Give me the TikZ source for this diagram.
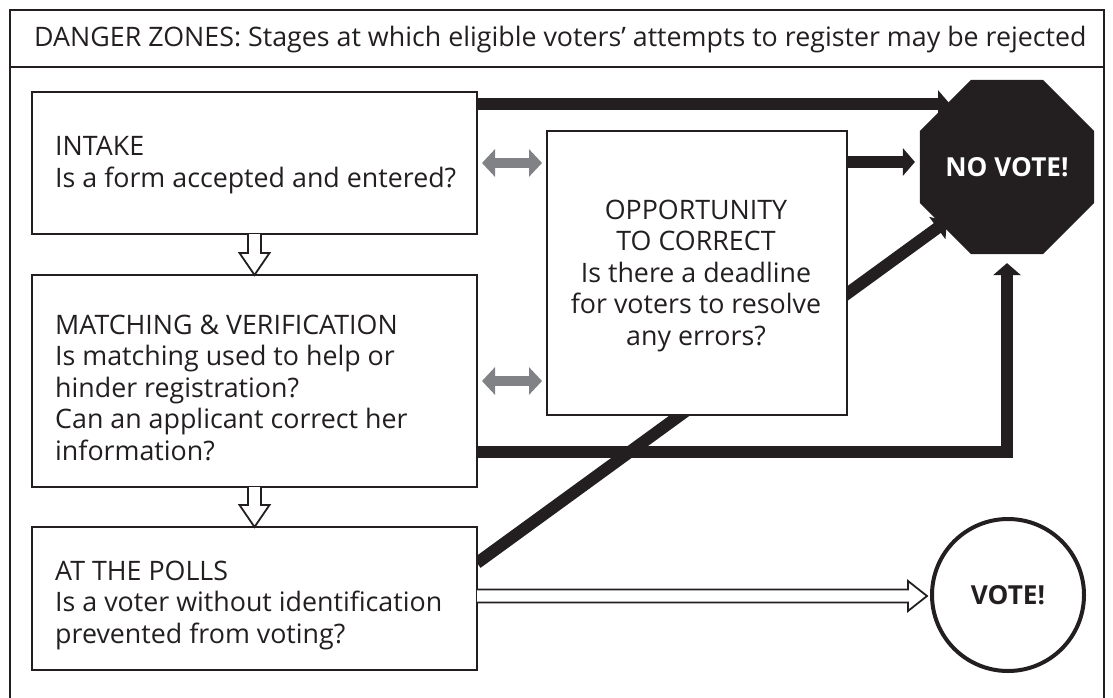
\documentclass[tikz,border=0pt]{standalone}
\usepackage{fontspec}
\setmainfont{Open Sans}
\usetikzlibrary{arrows.meta,shapes.geometric,backgrounds,calc}
\definecolor{ink}{HTML}{231F20}
\definecolor{arrgray}{HTML}{808285}
\begin{document}
\begin{tikzpicture}[x=1pt,y=-1pt,
  box/.style={draw=ink, line width=2pt, fill=white, rectangle, inner sep=0pt, outer sep=0pt, anchor=north west},
  txt/.style={text=ink, inner sep=0pt, font=\fontsize{26.8}{31.5}\selectfont},
  blk/.style={draw=ink, line width=12pt, -{Triangle[width=27pt,length=12pt]}},
  gdbl/.style={draw=arrgray, line width=10pt, {Triangle[width=27pt,length=13pt]}-{Triangle[width=27pt,length=13pt]}, shorten <=5pt, shorten >=5pt},
  hol/.style={draw=ink, line width=1.8pt, fill=white, line join=miter},
  frame/.style={draw=ink, line width=2pt},
  outtxt/.style={font=\fontsize{26.2}{30}\selectfont\bfseries}]
\useasboundingbox (0,0) rectangle (1113,698);
% frame
\draw[frame] (10,700) -- (10,10) -- (1104,10) -- (1104,700);
\draw[frame] (10,67) -- (1104,67);
\node[txt, anchor=base west] (title) at (34,47) {DANGER ZONES: Stages at which eligible voters’ attempts to register may be rejected};
% boxes
\node[box, minimum width=445pt, minimum height=142pt] (intake) at (32,92) {};
\node[box, minimum width=445pt, minimum height=212pt] (match) at (32,275) {};
\node[box, minimum width=445pt, minimum height=143pt] (polls) at (32,527) {};
\node[box, minimum width=300pt, minimum height=284pt] (opp) at (547,131) {};
\node[txt, anchor=base west, align=left] (intaket) at (55,187) {INTAKE\\Is a form accepted and entered?};
\node[txt, anchor=base west, align=left] (matcht) at (55,460) {MATCHING \& VERIFICATION\\Is matching used to help or\\hinder registration?\\Can an applicant correct her\\information?};
\node[txt, anchor=base west, align=left] (pollst) at (55,643) {AT THE POLLS\\Is a voter without identification\\prevented from voting?};
\node[txt, anchor=base, align=center] (oppt) at (696,345) {OPPORTUNITY\\TO CORRECT\\Is there a deadline\\for voters to resolve\\any errors?};
% outcomes
\node[regular polygon, regular polygon sides=8, fill=ink, minimum size=163.4pt, inner sep=0pt, outer sep=0pt, text=white, outtxt] (nv) at (1007,167) {NO VOTE!};
\node[circle, draw=ink, line width=4pt, minimum size=152pt, inner sep=0pt, outer sep=0pt, text=ink, outtxt] (v) at (1008,595) {VOTE!};
% connectors
\coordinate (a1) at ([yshift=-12pt]intake.north east);
\coordinate (e1) at (950,104);
\coordinate (a2) at ([yshift=-31pt]opp.north east);
\coordinate (a3) at ([yshift=-36pt]polls.north east);
\coordinate (e3) at (947,221);
\coordinate (a4) at ([yshift=-177pt]match.north east);
\coordinate (h3) at ([yshift=2.5pt]polls.east);
\begin{pgfonlayer}{background}
\draw[blk] (a1) -- (e1);
\draw[blk, shorten >=5pt] (a2) -- (a2 -| nv.west);
\draw[blk] (a3) -- (e3);
\draw[blk, shorten >=9pt] (a4) -| (nv.south);
\draw[gdbl] (intake.east) -- (intake.east -| opp.west);
\draw[gdbl] (match.east) -- (match.east -| opp.west);
\end{pgfonlayer}
\draw[hol] (intake.south) +(-6.5,0) -- +(-6.5,19) -- +(-15,19) -- +(0,41) -- +(15,19) -- +(6.5,19) -- +(6.5,0);
\draw[hol] (match.south) +(-6.5,0) -- +(-6.5,18) -- +(-15,18) -- +(0,40) -- +(15,18) -- +(6.5,18) -- +(6.5,0);
\draw[hol] (h3) +(0,-6.5) -- +(431,-6.5) -- +(431,-15) -- +(450,0) -- +(431,15) -- +(431,6.5) -- +(0,6.5);
\end{tikzpicture}
\end{document}
